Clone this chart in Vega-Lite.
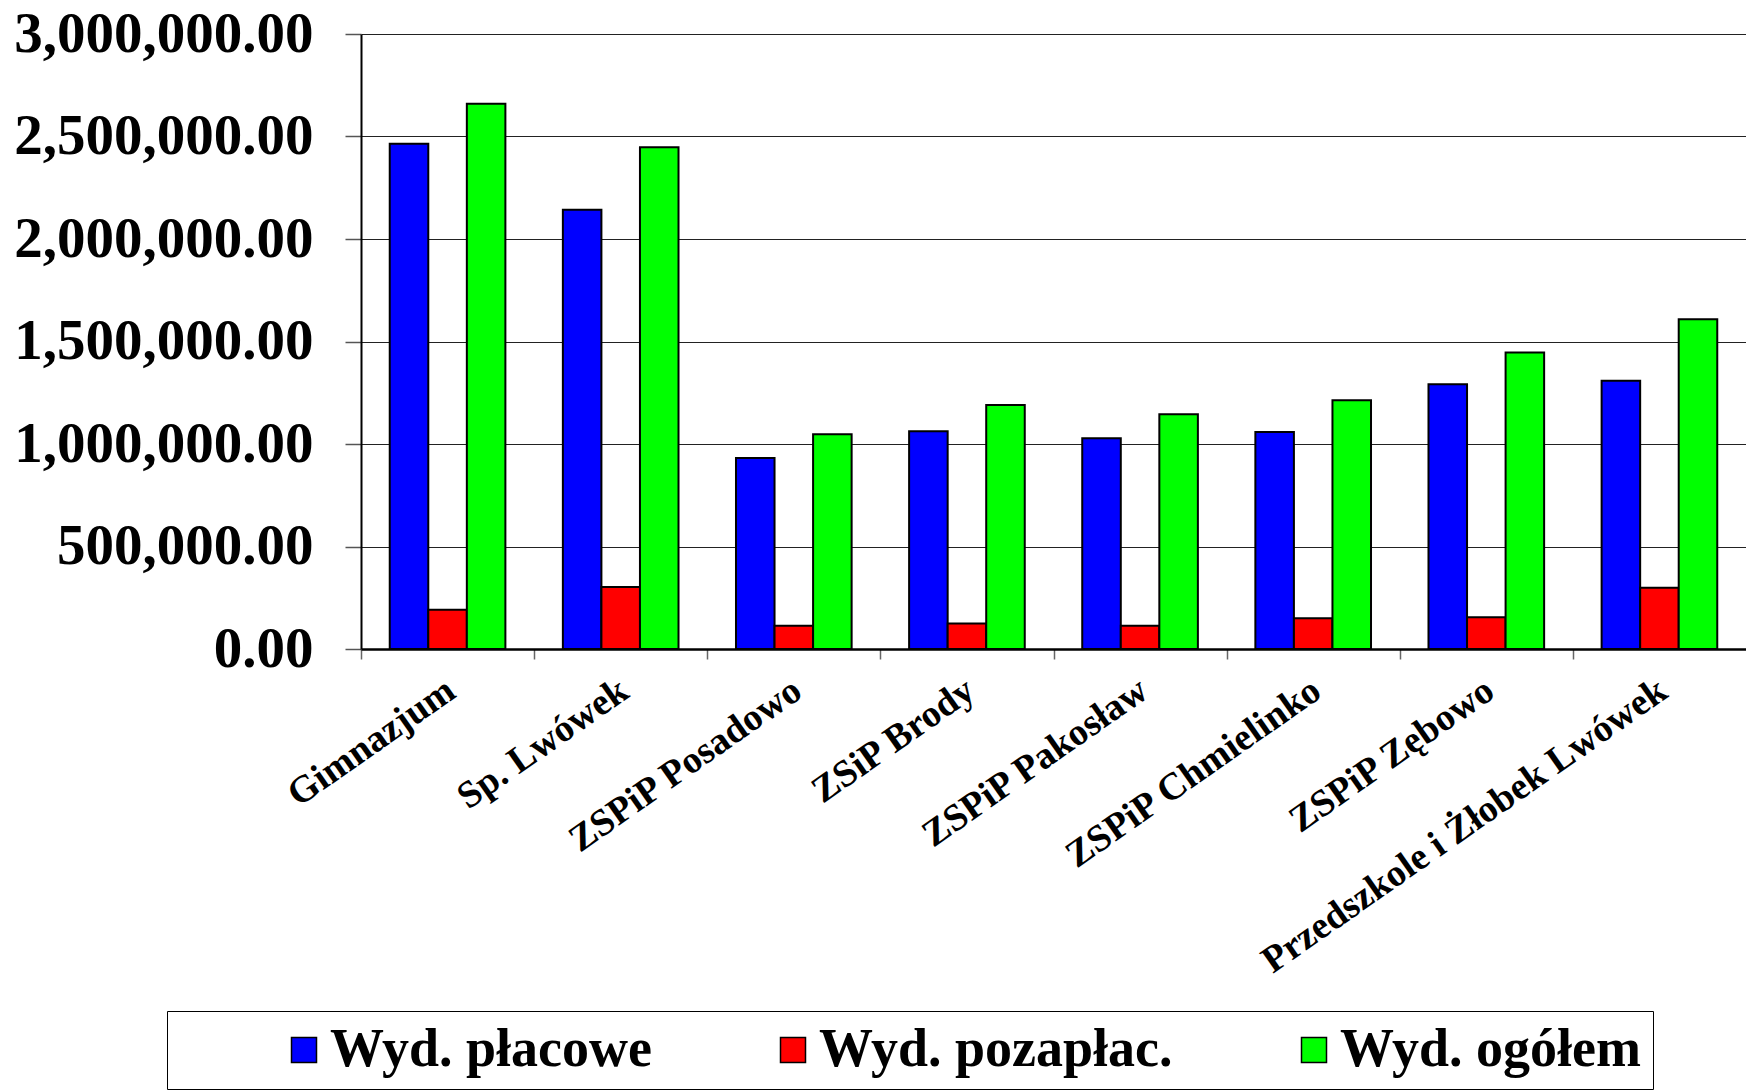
{
  "$schema": "https://vega.github.io/schema/vega-lite/v6.json",
  "autosize": {"type": "none"},
  "padding": {"left": 361, "top": 34, "right": 0, "bottom": 442},
  "width": 1385,
  "height": 615,
  "background": "#ffffff",
  "config": {"view": {"stroke": null}, "font": "Liberation Serif"},
  "data": {
    "values": [
      {"school": "Gimnazjum", "series": "Wyd. płacowe", "value": 2464500},
      {"school": "Gimnazjum", "series": "Wyd. pozapłac.", "value": 192000},
      {"school": "Gimnazjum", "series": "Wyd. ogółem", "value": 2660000},
      {"school": "Sp. Lwówek", "series": "Wyd. płacowe", "value": 2143000},
      {"school": "Sp. Lwówek", "series": "Wyd. pozapłac.", "value": 302000},
      {"school": "Sp. Lwówek", "series": "Wyd. ogółem", "value": 2447000},
      {"school": "ZSPiP Posadowo", "series": "Wyd. płacowe", "value": 932000},
      {"school": "ZSPiP Posadowo", "series": "Wyd. pozapłac.", "value": 114000},
      {"school": "ZSPiP Posadowo", "series": "Wyd. ogółem", "value": 1048000},
      {"school": "ZSiP Brody", "series": "Wyd. płacowe", "value": 1062000},
      {"school": "ZSiP Brody", "series": "Wyd. pozapłac.", "value": 124000},
      {"school": "ZSiP Brody", "series": "Wyd. ogółem", "value": 1190000},
      {"school": "ZSPiP Pakosław", "series": "Wyd. płacowe", "value": 1028000},
      {"school": "ZSPiP Pakosław", "series": "Wyd. pozapłac.", "value": 114000},
      {"school": "ZSPiP Pakosław", "series": "Wyd. ogółem", "value": 1145000},
      {"school": "ZSPiP Chmielinko", "series": "Wyd. płacowe", "value": 1059000},
      {"school": "ZSPiP Chmielinko", "series": "Wyd. pozapłac.", "value": 150000},
      {"school": "ZSPiP Chmielinko", "series": "Wyd. ogółem", "value": 1213000},
      {"school": "ZSPiP Zębowo", "series": "Wyd. płacowe", "value": 1292000},
      {"school": "ZSPiP Zębowo", "series": "Wyd. pozapłac.", "value": 155000},
      {"school": "ZSPiP Zębowo", "series": "Wyd. ogółem", "value": 1446000},
      {"school": "Przedszkole i Żłobek Lwówek", "series": "Wyd. płacowe", "value": 1308000},
      {"school": "Przedszkole i Żłobek Lwówek", "series": "Wyd. pozapłac.", "value": 299000},
      {"school": "Przedszkole i Żłobek Lwówek", "series": "Wyd. ogółem", "value": 1609000}
    ]
  },
  "mark": {"type": "bar", "stroke": "#000000", "strokeWidth": 2},
  "encoding": {
    "x": {
      "field": "school",
      "type": "nominal",
      "sort": null,
      "title": null,
      "scale": {"paddingInner": 0.332, "paddingOuter": 0.166},
      "axis": {
        "grid": false,
        "domain": true,
        "domainColor": "#000000",
        "domainWidth": 2.5,
        "ticks": true,
        "tickColor": "#666666",
        "tickWidth": 1.5,
        "tickSize": 10,
        "tickOffset": -86.56,
        "labelOffset": 79,
        "labelAngle": -35,
        "labelAlign": "right",
        "labelBaseline": "top",
        "labelPadding": 12,
        "labelFont": "Liberation Serif",
        "labelFontWeight": "bold",
        "labelFontSize": 38,
        "labelColor": "#000000",
        "labelLimit": 0,
        "labelOverlap": false
      }
    },
    "xOffset": {
      "field": "series",
      "type": "nominal",
      "sort": ["Wyd. płacowe", "Wyd. pozapłac.", "Wyd. ogółem"]
    },
    "y": {
      "field": "value",
      "type": "quantitative",
      "title": null,
      "scale": {"domain": [0, 3000000], "nice": false},
      "axis": {
        "values": [0, 500000, 1000000, 1500000, 2000000, 2500000, 3000000],
        "format": ",.2f",
        "grid": true,
        "gridColor": "#222222",
        "gridWidth": 1.2,
        "domain": true,
        "domainColor": "#000000",
        "domainWidth": 2,
        "ticks": true,
        "tickColor": "#555555",
        "tickWidth": 1.5,
        "tickSize": 16,
        "labelPadding": 32,
        "labelFont": "Liberation Serif",
        "labelFontWeight": "bold",
        "labelFontSize": 57,
        "labelColor": "#000000",
        "labelLimit": 0
      }
    },
    "color": {
      "field": "series",
      "type": "nominal",
      "sort": ["Wyd. płacowe", "Wyd. pozapłac.", "Wyd. ogółem"],
      "scale": {
        "domain": ["Wyd. płacowe", "Wyd. pozapłac.", "Wyd. ogółem"],
        "range": ["#0000FF", "#FF0000", "#00FF00"]
      },
      "legend": {
        "orient": "none",
        "legendX": -194,
        "legendY": 977,
        "direction": "horizontal",
        "title": null,
        "labelFont": "Liberation Serif",
        "labelFontWeight": "bold",
        "labelFontSize": 54,
        "labelColor": "#000000",
        "labelLimit": 0,
        "symbolType": "square",
        "symbolSize": 625,
        "symbolStrokeColor": "#000000",
        "symbolStrokeWidth": 1.5,
        "symbolOffset": 98,
        "labelOffset": -1,
        "columnPadding": 16,
        "padding": 12,
        "strokeColor": "#000000",
        "fillColor": "#ffffff"
      }
    }
  }
}
